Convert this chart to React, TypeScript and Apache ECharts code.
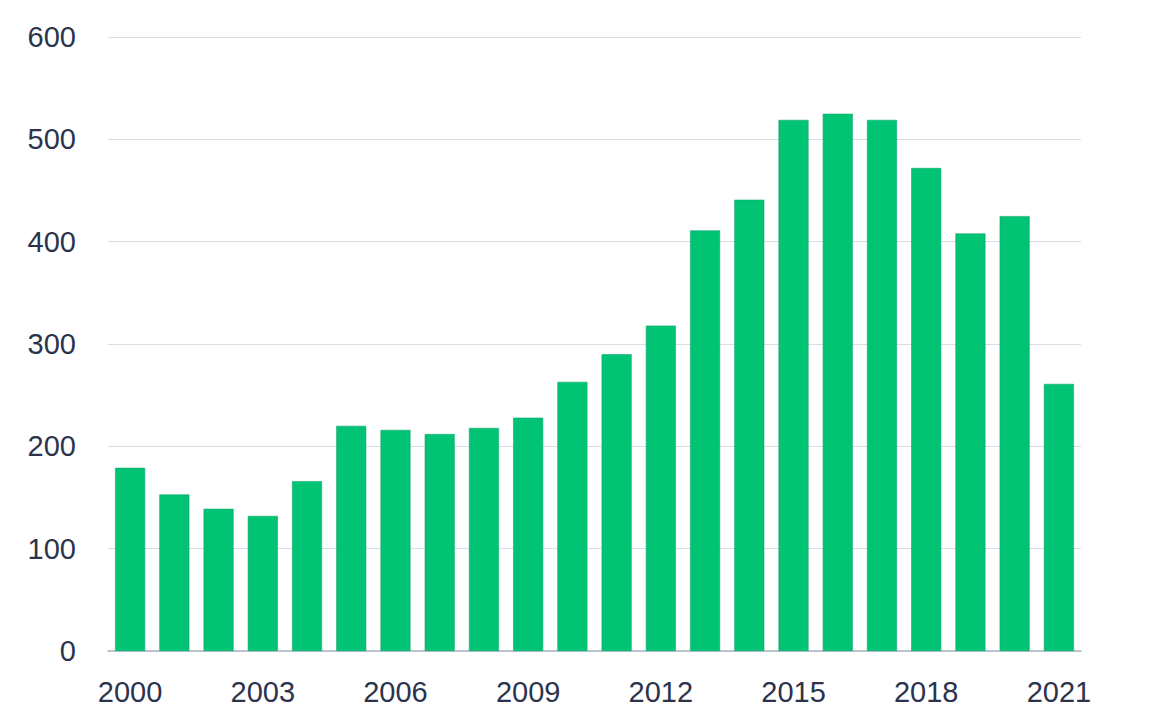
import React, { useEffect, useRef } from "react";
import * as echarts from "echarts";

const years = ["2000","2001","2002","2003","2004","2005","2006","2007","2008","2009","2010","2011","2012","2013","2014","2015","2016","2017","2018","2019","2020","2021"];
const values = [179, 153, 139, 132, 166, 220, 216, 212, 218, 228, 263, 290, 318, 411, 441, 519, 525, 519, 472, 408, 425, 261];

export default function App() {
  const ref = useRef<HTMLDivElement>(null);
  useEffect(() => {
    const chart = echarts.init(ref.current!, null, { renderer: "svg" });
    chart.setOption({
      animation: false,
      backgroundColor: "#ffffff",
      grid: { left: 108, right: 69, top: 37, bottom: 61, containLabel: false },
      xAxis: {
        type: "category",
        data: years,
        axisTick: { show: false },
        axisLine: { lineStyle: { color: "#aab6c2", width: 1.5 } },
        axisLabel: {
          interval: 2,
          color: "#2c334d",
          fontSize: 29,
          fontFamily: "Liberation Sans",
          margin: 26,
        },
      },
      yAxis: {
        type: "value",
        min: 0,
        max: 600,
        interval: 100,
        axisLine: { show: false },
        axisTick: { show: false },
        splitLine: { lineStyle: { color: "#d6dee6", width: 1.2 } },
        axisLabel: {
          color: "#2c334d",
          fontSize: 29,
          fontFamily: "Liberation Sans",
          margin: 32,
        },
      },
      series: [
        {
          type: "bar",
          data: values,
          barWidth: 30,
          itemStyle: { color: "#00c373", borderColor: "#12a872", borderWidth: 0.6 },
        },
      ],
    });
    return () => chart.dispose();
  }, []);
  return <div ref={ref} style={{ width: 1150, height: 712, position: "absolute", left: 0, top: 0 }} />;
}
